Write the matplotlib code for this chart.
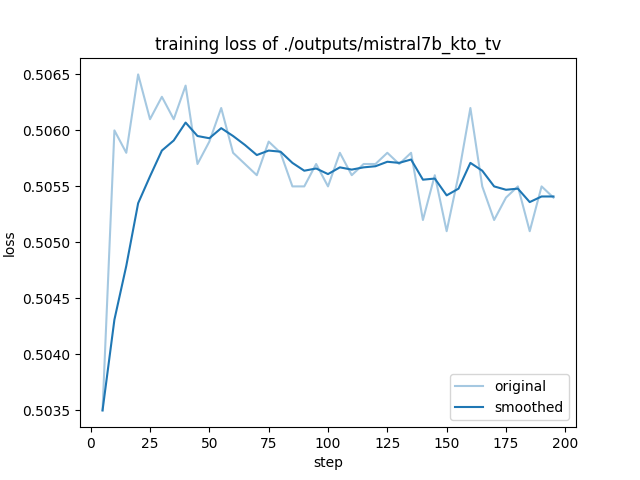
import matplotlib
matplotlib.use("Agg")
import matplotlib.pyplot as plt

steps = list(range(5, 200, 5))
loss_original = [
    0.5035, 0.5060, 0.5058, 0.5065, 0.5061, 0.5063, 0.5061, 0.5064, 0.5057, 0.5059,
    0.5062, 0.5058, 0.5057, 0.5056, 0.5059, 0.5058, 0.5055, 0.5055, 0.5057, 0.5055,
    0.5058, 0.5056, 0.5057, 0.5057, 0.5058, 0.5057, 0.5058, 0.5052, 0.5056, 0.5051,
    0.5056, 0.5062, 0.5055, 0.5052, 0.5054, 0.5055, 0.5051, 0.5055, 0.5054,
]
loss_smoothed = [
    0.50350, 0.50431, 0.50479, 0.50535, 0.50559, 0.50582, 0.50591, 0.50607, 0.50595, 0.50593,
    0.50602, 0.50595, 0.50587, 0.50578, 0.50582, 0.50581, 0.50571, 0.50564, 0.50566, 0.50561,
    0.50567, 0.50565, 0.50567, 0.50568, 0.50572, 0.50571, 0.50574, 0.50556, 0.50557, 0.50542,
    0.50548, 0.50571, 0.50564, 0.50550, 0.50547, 0.50548, 0.50536, 0.50541, 0.50541,
]

plt.figure(figsize=(6.4, 4.8), dpi=100)
plt.plot(steps, loss_original, color="#1f77b4", alpha=0.4, label="original")
plt.plot(steps, loss_smoothed, color="#1f77b4", label="smoothed")
plt.title("training loss of ./outputs/mistral7b_kto_tv")
plt.xlabel("step")
plt.ylabel("loss")
plt.legend(loc="lower right")
plt.savefig("out.png", format="png", dpi=100)
